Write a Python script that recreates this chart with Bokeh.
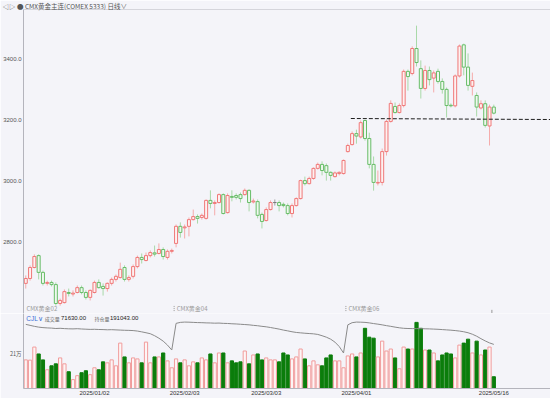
from bokeh.plotting import figure
from bokeh.layouts import column
from bokeh.models import Range1d, FixedTicker, NumeralTickFormatter, Span
from bokeh.embed import file_html
from bokeh.resources import INLINE
from bokeh.core.properties import value

# ---------------- data ----------------
opens = [2666, 2682, 2718, 2757, 2702, 2666, 2669, 2662, 2600, 2603,
         2636, 2631, 2636, 2652, 2636, 2620, 2636, 2669, 2656, 2649,
         2666, 2679, 2685, 2718, 2679, 2689, 2721, 2751, 2741, 2757,
         2766, 2764, 2777, 2751, 2771, 2797, 2853, 2848, 2853, 2875,
         2885, 2882, 2879, 2938, 2928, 2931, 2957, 2898, 2951, 2954,
         2957, 2957, 2971, 2933, 2934, 2892, 2872, 2908, 2931, 2931,
         2925, 2921, 2895, 2921, 2944, 3003, 2993, 3010, 3043, 3056,
         3052, 3030, 3016, 3026, 3026, 3098, 3121, 3157, 3146, 3200,
         3141, 3056, 2995, 2997, 3098, 3197, 3246, 3226, 3249, 3361,
         3354, 3436, 3370, 3305, 3364, 3339, 3361, 3328, 3302, 3250,
         3248, 3346, 3448, 3375, 3312, 3282, 3241, 3255, 3182, 3244]
highs = [2692, 2725, 2761, 2761, 2708, 2675, 2675, 2669, 2616, 2646,
         2649, 2643, 2659, 2659, 2643, 2646, 2675, 2679, 2666, 2669,
         2685, 2695, 2734, 2725, 2692, 2728, 2757, 2764, 2767, 2774,
         2790, 2797, 2784, 2777, 2780, 2859, 2866, 2859, 2882, 2908,
         2892, 2895, 2941, 2971, 2938, 2961, 2961, 2961, 2971, 2961,
         2964, 2977, 2974, 2944, 2941, 2898, 2915, 2938, 2941, 2938,
         2931, 2928, 2928, 2948, 3006, 3016, 3016, 3046, 3062, 3066,
         3059, 3033, 3033, 3033, 3072, 3124, 3164, 3170, 3200, 3203,
         3160, 3082, 3036, 3108, 3203, 3266, 3259, 3256, 3367, 3367,
         3443, 3511, 3397, 3380, 3377, 3364, 3370, 3338, 3308, 3256,
         3351, 3449, 3452, 3420, 3357, 3292, 3266, 3266, 3252, 3252]
lows = [2649, 2675, 2715, 2679, 2659, 2659, 2656, 2593, 2593, 2600,
        2623, 2623, 2633, 2630, 2613, 2610, 2633, 2649, 2626, 2639,
        2659, 2672, 2682, 2672, 2672, 2682, 2715, 2731, 2738, 2751,
        2754, 2761, 2744, 2744, 2764, 2784, 2816, 2813, 2820, 2872,
        2862, 2875, 2875, 2912, 2889, 2928, 2892, 2895, 2935, 2941,
        2931, 2954, 2902, 2928, 2879, 2846, 2869, 2905, 2921, 2902,
        2915, 2889, 2882, 2918, 2941, 2987, 2990, 3006, 3039, 3020,
        3003, 3003, 3013, 3020, 3023, 3095, 3118, 3124, 3141, 3134,
        3043, 2970, 2987, 2987, 3085, 3193, 3223, 3223, 3243, 3298,
        3348, 3377, 3272, 3298, 3315, 3292, 3321, 3288, 3210, 3243,
        3243, 3341, 3348, 3298, 3282, 3213, 3236, 3177, 3118, 3220]
closes = [2682, 2718, 2754, 2702, 2666, 2669, 2662, 2600, 2610, 2639,
          2633, 2634, 2652, 2636, 2620, 2643, 2669, 2652, 2649, 2666,
          2679, 2689, 2712, 2679, 2685, 2721, 2751, 2744, 2757, 2767,
          2762, 2777, 2754, 2771, 2774, 2853, 2833, 2851, 2875, 2885,
          2879, 2889, 2938, 2928, 2931, 2957, 2895, 2954, 2948, 2948,
          2944, 2971, 2931, 2936, 2889, 2869, 2908, 2931, 2931, 2921,
          2921, 2895, 2921, 2944, 3003, 2993, 3010, 3043, 3056, 3036,
          3030, 3020, 3028, 3030, 3069, 3118, 3157, 3149, 3193, 3141,
          3056, 2997, 2997, 3098, 3197, 3256, 3226, 3249, 3361, 3344,
          3436, 3390, 3305, 3364, 3334, 3356, 3328, 3302, 3249, 3248,
          3346, 3444, 3375, 3315, 3331, 3244, 3255, 3184, 3244, 3224]
volumes = [174000, 172500, 252000, 210000, 174000, 114000, 138000, 150000, 186000, 150000,
           102000, 54000, 78000, 96000, 108000, 84000, 126000, 114000, 162000, 156000,
           174000, 138000, 276000, 192000, 156000, 186000, 180000, 156000, 282000, 156000,
           192000, 192000, 216000, 168000, 126000, 180000, 156000, 174000, 138000, 162000,
           156000, 186000, 174000, 210000, 156000, 216000, 216000, 156000, 168000, 156000,
           162000, 228000, 150000, 204000, 210000, 174000, 186000, 174000, 174000, 162000,
           216000, 204000, 180000, 192000, 240000, 180000, 138000, 168000, 144000, 138000,
           186000, 204000, 168000, 168000, 126000, 198000, 210000, 192000, 216000, 366000,
           312000, 306000, 192000, 288000, 228000, 240000, 186000, 120000, 252000, 240000,
           240000, 402000, 366000, 234000, 234000, 216000, 168000, 204000, 216000, 210000,
           186000, 264000, 276000, 300000, 216000, 288000, 204000, 234000, 252000, 71630]
open_interest = [495500, 480500, 465500, 453500, 446000, 441500, 438500, 432500, 435500, 431000,
                 428000, 426500, 429500, 425000, 422000, 419000, 420500, 417500, 416000, 413000,
                 414500, 411500, 408500, 405500, 404000, 401000, 393500, 381500, 368000, 353000,
                 323000, 285500, 240500, 180500, 105500, 510500, 525500, 530000, 528500, 525500,
                 522500, 521000, 518000, 516500, 513500, 515000, 510500, 509000, 504500, 501500,
                 497000, 492500, 488000, 480500, 474500, 465500, 458000, 447500, 435500, 423500,
                 408500, 396500, 383000, 372500, 366500, 360500, 356000, 351500, 342500, 323000,
                 300500, 270500, 225500, 158000, 60500, 488000, 521000, 530000, 528500, 525500,
                 518000, 507500, 498500, 488000, 476000, 465500, 453500, 443000, 435500, 432500,
                 431000, 431000, 429500, 428000, 426500, 423500, 420500, 416000, 411500, 407000,
                 401000, 393500, 383000, 368000, 345500, 315500, 278000, 243500, 213500, 191043]

date_tick_index = [16, 37, 56, 77, 109]
date_tick_labels = ["2025/01/02", "2025/02/03", "2025/03/03", "2025/04/01", "2025/05/16"]
price_ticks = [2800, 3000, 3200, 3400]
volume_ticks = [210000]
volume_tick_labels = ["21万"]
contract_names = ["CMX黄金02", "CMX黄金04", "CMX黄金06"]
contract_start = [0, 35, 75]
next_roll_index = 109
support_start = 75.7
support_levels = [3206.5, 3203.2]
header_text = "◁▷ ● CMX黄金主连(COMEX 5333)   日线∨"
last_volume_text = "71630.00"
last_oi_text = "191043.00"

# ---------------- styling ----------------
BG = "#f4f4f9"
AXIS = "#b4b4bc"
UP_LINE, UP_FILL, UP_WICK = "#f07878", "#fdf1f1", "#f5abab"
DN_LINE, DN_FILL, DN_WICK = "#68bd68", "#eff8ef", "#a8d9a8"
FLAT = "#7a7a7a"
VOL_UP_LINE, VOL_UP_FILL = "#f19c9c", "#fdf5f5"
VOL_DN = "#0b7d0b"
CJK = value("Noto Sans CJK SC")
LAT = "Liberation Sans"

n = len(opens)
idx = list(range(n))
body_top = [max(o, c) for o, c in zip(opens, closes)]
body_bot = [min(o, c) for o, c in zip(opens, closes)]
line_c, fill_c, wick_c, vfill, vline = [], [], [], [], []
for o, c in zip(opens, closes):
    if c > o:
        line_c.append(UP_LINE); fill_c.append(UP_FILL); wick_c.append(UP_WICK)
        vfill.append(VOL_UP_FILL); vline.append(VOL_UP_LINE)
    elif c < o:
        line_c.append(DN_LINE); fill_c.append(DN_FILL); wick_c.append(DN_WICK)
        vfill.append(VOL_DN); vline.append(VOL_DN)
    else:
        line_c.append(FLAT); fill_c.append(FLAT); wick_c.append("#a0a0a0")
        vfill.append(VOL_UP_FILL); vline.append(VOL_UP_LINE)

X0, X1 = -0.53, 122.2
P0, P1 = 2567.2, 3563.9
V1 = 456000
OI0, OI1 = -479457, 660543


def style_axis(ax, size="6px", color="#555555", font=LAT):
    ax.axis_line_color = AXIS
    ax.major_tick_out = 0
    ax.major_tick_in = 0
    ax.minor_tick_out = 0
    ax.minor_tick_in = 0
    ax.major_label_text_font_size = size
    ax.major_label_text_color = color
    ax.major_label_text_font = font
    ax.major_label_standoff = 2


# ---------------- price panel ----------------
p = figure(width=550, height=313, x_range=Range1d(X0, X1), y_range=Range1d(P0, P1),
           output_backend="svg", toolbar_location=None, x_axis_location=None,
           min_border_left=22, min_border_right=0, min_border_top=0, min_border_bottom=0,
           background_fill_color=BG, border_fill_color=BG, outline_line_color=None)
p.title.text = header_text
p.title.text_font = "Noto Sans CJK SC"
p.title.text_font_size = "6.5px"
p.title.text_font_style = "normal"
p.title.text_color = "#555555"
p.title.standoff = -3
p.title.offset = -21
p.xgrid.visible = False
p.ygrid.visible = False

p.yaxis.ticker = FixedTicker(ticks=price_ticks)
p.yaxis.formatter = NumeralTickFormatter(format="0.0")
style_axis(p.yaxis[0])
p.add_layout(Span(location=P1, dimension="width", line_color=AXIS, line_width=1))
p.add_layout(Span(location=P0, dimension="width", line_color=AXIS, line_width=1))

p.segment(x0=idx, y0=lows, x1=idx, y1=highs, line_color=wick_c, line_width=1)
p.vbar(x=idx, width=0.7, top=body_top, bottom=body_bot,
       fill_color=fill_c, line_color=line_c, line_width=1)

# support line
p.segment(x0=[support_start], y0=[support_levels[0]], x1=[X1], y1=[support_levels[1]],
          line_color="#1e1e1e", line_width=1, line_dash="4 2")

# contract labels and roll markers
lab_y = P0 + (P1 - P0) * 0.0165
p.text(x=[s + 0.15 for s in contract_start], y=[lab_y] * len(contract_start), text=contract_names,
       text_font=CJK, text_font_size="6px", text_color="#9a9a9a",
       text_baseline="middle", text_align="left")
roll_x = [s - 0.45 for s in contract_start[1:]]
p.segment(x0=roll_x, y0=[P0 + (P1 - P0) * 0.008] * len(roll_x),
          x1=roll_x, y1=[P0 + (P1 - P0) * 0.028] * len(roll_x),
          line_color="#999999", line_width=1, line_dash="1 1")
p.segment(x0=[next_roll_index - 0.45], y0=[P0], x1=[next_roll_index - 0.45],
          y1=[P0 + (P1 - P0) * 0.012], line_color="#999999", line_width=1)

# ---------------- volume panel ----------------
v = figure(width=550, height=85, x_range=p.x_range, y_range=Range1d(0, V1),
           output_backend="svg", toolbar_location=None,
           min_border_left=22, min_border_right=0, min_border_top=0, min_border_bottom=0,
           background_fill_color=BG, border_fill_color=BG, outline_line_color=None)
v.extra_y_ranges = {"oi": Range1d(OI0, OI1)}
v.xgrid.visible = False
v.ygrid.visible = False
v.xaxis.ticker = FixedTicker(ticks=date_tick_index)
v.xaxis.major_label_overrides = {i: t for i, t in zip(date_tick_index, date_tick_labels)}
style_axis(v.xaxis[0], color="#333333")
v.xaxis.major_label_standoff = 1
v.yaxis.ticker = FixedTicker(ticks=volume_ticks)
v.yaxis.major_label_overrides = {t: s for t, s in zip(volume_ticks, volume_tick_labels)}
style_axis(v.yaxis[0], size="5.5px", font="Noto Sans CJK SC")

v.vbar(x=idx, width=0.75, top=volumes, bottom=0, fill_color=vfill, line_color=vline, line_width=1)
v.line(x=idx, y=open_interest, y_range_name="oi", line_color="#8a8a8a", line_width=1)

hy = V1 * 0.934
v.text(x=[0.1], y=[hy], text=["CJL∨"], text_font=value(LAT), text_font_size="6.5px",
       text_color="#3a6fd8", text_baseline="middle")
v.text(x=[4.4, 16.0], y=[hy, hy], text=["成交量", "持仓量"], text_font=CJK,
       text_font_size="5px", text_color="#666666", text_baseline="middle")
v.text(x=[8.2, 19.6], y=[hy, hy], text=[last_volume_text, last_oi_text], text_font=value(LAT),
       text_font_size="6px", text_color="#222222", text_baseline="middle")

layout = column(p, v, spacing=0)
open("out.html", "w").write(file_html(layout, INLINE))
